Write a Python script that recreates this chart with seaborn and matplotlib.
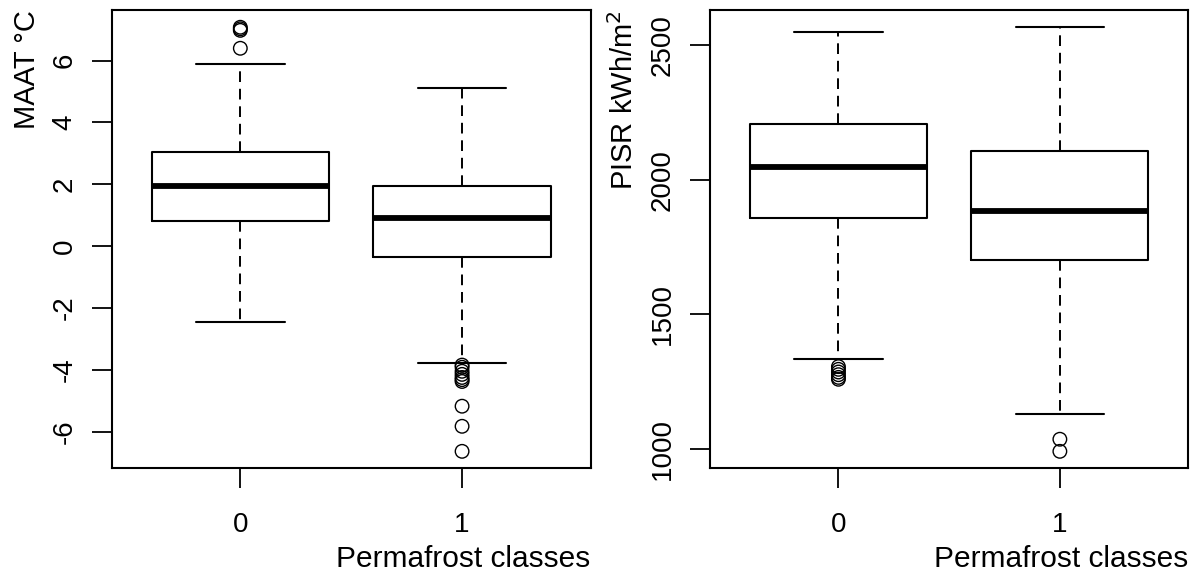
import numpy as np
import matplotlib
matplotlib.use("Agg")
import matplotlib.pyplot as plt
import seaborn as sns

# ---- data ----
classes = ["0", "1"]

maat_q1 = [0.82, -0.36]
maat_med = [1.95, 0.90]
maat_q3 = [3.04, 1.93]
maat_lo = [-2.45, -3.77]
maat_hi = [5.89, 5.11]
maat_out_0 = [6.40, 6.98, 7.03, 7.08]
maat_out_1 = [-3.85, -3.92, -4.05, -4.15, -4.25, -4.32, -4.38, -5.18, -5.83, -6.64]

pisr_q1 = [1856, 1701]
pisr_med = [2048, 1884]
pisr_q3 = [2208, 2107]
pisr_lo = [1333, 1128]
pisr_hi = [2548, 2567]
pisr_out_0 = [1305, 1295, 1285, 1275, 1265, 1258]
pisr_out_1 = [1035, 990]

maat_ticks = [-6, -4, -2, 0, 2, 4, 6]
pisr_ticks = [1000, 1500, 2000, 2500]

sns.set_theme(style="white")
plt.rcParams["font.family"] = ["Liberation Sans", "DejaVu Sans"]

fig = plt.figure(figsize=(11.97, 5.75), dpi=100)
ax1 = fig.add_axes([111.7 / 1197, (575 - 468.3) / 575, 479 / 1197, 458 / 575])
ax2 = fig.add_axes([710 / 1197, (575 - 468.3) / 575, 478.3 / 1197, 458 / 575])


def draw(ax, q1, med, q3, lo, hi, outs, ticks, ylabel):
    stats = []
    for i in range(len(classes)):
        stats.append(dict(med=med[i], q1=q1[i], q3=q3[i], whislo=lo[i],
                          whishi=hi[i], fliers=[], label=classes[i]))
    ax.bxp(stats, positions=[0, 1], widths=0.8, capwidths=0.4,
           showfliers=False, patch_artist=False,
           boxprops=dict(color="black", linewidth=1.5),
           medianprops=dict(color="black", linewidth=4.2, solid_capstyle="butt"),
           whiskerprops=dict(color="black", linewidth=1.4, linestyle=(0, (5.5, 3.5))),
           capprops=dict(color="black", linewidth=1.5))
    xs, ys = [], []
    for i, o in enumerate(outs):
        xs += [i] * len(o)
        ys += list(o)
    sns.scatterplot(x=xs, y=ys, ax=ax, marker="o", s=95, facecolors="none",
                    edgecolors="black", linewidth=1.0, zorder=3)
    allv = list(lo) + list(hi) + [v for o in outs for v in o]
    lo_v, hi_v = min(allv), max(allv)
    r = hi_v - lo_v
    ax.set_ylim(lo_v - 0.04 * r, hi_v + 0.04 * r)
    ax.set_xlim(-0.58, 1.58)
    ax.set_xticks([0, 1])
    ax.set_xticklabels(classes)
    ax.set_yticks(ticks)
    ax.set_yticklabels([str(t) for t in ticks], rotation=90, va="center")
    ax.tick_params(axis="both", which="both", direction="out", length=14.5,
                   width=1.3, color="black", labelsize=20, labelcolor="black",
                   bottom=True, left=True, top=False, right=False)
    ax.tick_params(axis="x", pad=17)
    ax.tick_params(axis="y", pad=10)
    for s in ax.spines.values():
        s.set_color("black")
        s.set_linewidth(1.5)
        s.set_visible(True)
    ax.set_xlabel("Permafrost classes", fontsize=21.5, loc="right", labelpad=5,
                  color="black")
    ax.set_ylabel(ylabel, fontsize=21, loc="top", labelpad=8, color="black")
    ax.set_facecolor("white")


draw(ax1, maat_q1, maat_med, maat_q3, maat_lo, maat_hi,
     [maat_out_0, maat_out_1], maat_ticks, "MAAT °C")
draw(ax2, pisr_q1, pisr_med, pisr_q3, pisr_lo, pisr_hi,
     [pisr_out_0, pisr_out_1], pisr_ticks, r"PISR kWh/m$^2$")

fig.savefig("out.png", dpi=100, facecolor="white")
